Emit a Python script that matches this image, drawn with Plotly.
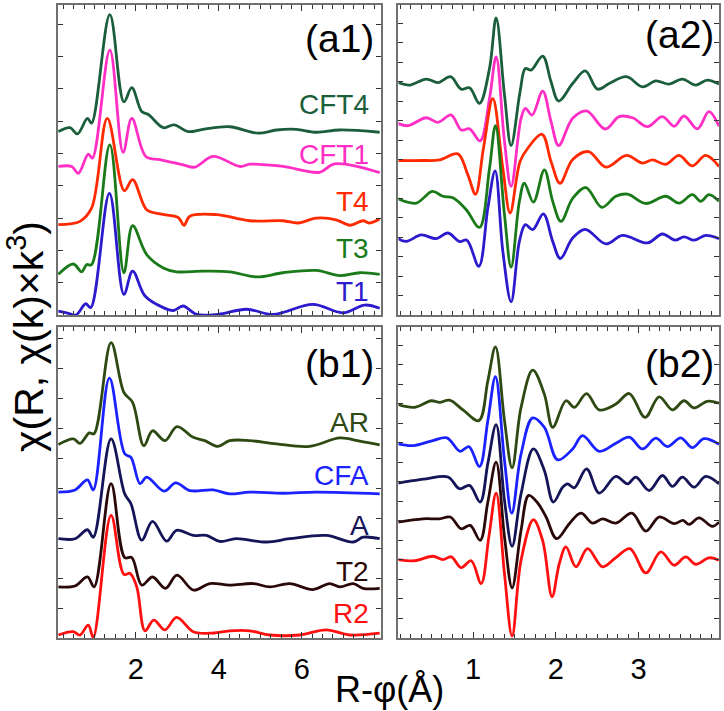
import plotly.graph_objects as go

# ---------------- data (a1) ----------------
a1_r_cft4 = [0.13,0.41,0.59,0.83,0.93,1.37,1.71,1.90,2.14,2.30,2.66,2.92,3.26,3.62,4.26,4.95,5.39,5.87,6.35,6.92,7.88]
a1_y_cft4 = [5.68,5.80,5.61,6.09,5.94,9.30,6.60,7.04,6.30,6.21,5.80,5.89,5.68,5.75,5.83,5.63,5.73,5.75,5.66,5.73,5.66]
a1_r_cft1 = [0.13,0.45,0.61,0.85,0.95,1.37,1.69,1.90,2.24,2.58,3.14,3.42,3.86,4.51,4.75,5.55,6.43,6.79,7.88]
a1_y_cft1 = [4.60,4.60,4.39,4.98,4.86,8.20,5.04,6.09,4.91,4.81,4.65,4.58,4.91,4.60,4.67,4.60,4.42,4.68,4.41]
a1_r_t4 = [0.13,0.41,0.65,0.93,1.31,1.72,1.92,2.26,2.58,3.02,3.16,3.30,3.94,4.75,5.55,5.91,6.35,6.83,7.16,7.48,7.64,7.88]
a1_y_t4 = [2.80,2.82,2.90,3.31,6.09,3.85,4.19,3.26,3.13,3.02,2.78,3.06,3.11,2.92,2.92,2.85,3.00,2.95,2.78,2.92,2.85,2.98]
a1_r_t3 = [0.13,0.49,0.69,0.81,0.93,1.37,1.71,1.92,2.26,2.66,2.98,3.62,4.26,4.91,5.55,6.35,6.92,7.40,7.88]
a1_y_t3 = [1.26,1.58,1.34,1.56,1.56,5.27,1.31,2.77,1.87,1.46,1.34,1.36,1.34,1.18,1.31,1.38,1.22,1.31,1.26]
a1_r_t1 = [0.13,0.33,0.55,0.79,0.91,1.36,1.71,1.92,2.22,2.66,2.90,3.14,3.46,3.98,4.67,5.31,6.27,6.99,7.52,7.88]
a1_y_t1 = [0.12,0.07,0.00,0.35,0.23,3.77,0.64,1.36,0.59,0.23,0.14,0.28,0.02,0.02,0.18,0.02,0.33,0.07,0.31,0.21]

# ---------------- data (a2) ----------------
a2_r_cft4 = [0.094,0.235,0.436,0.576,0.729,0.857,0.958,1.078,1.199,1.279,1.380,1.460,1.568,1.632,1.701,1.841,1.942,2.034,2.203,2.355,2.504,2.645,2.853,3.046,3.207,3.367,3.528,3.689,3.829,3.970]
a2_y_cft4 = [11.96,11.83,12.14,11.96,12.26,11.62,11.69,10.89,12.68,15.28,11.32,8.72,11.49,12.68,12.60,13.32,12.00,11.01,11.91,12.56,11.62,11.91,12.26,11.74,12.05,11.88,12.14,11.83,12.09,11.88]
a2_r_cft1 = [0.094,0.215,0.436,0.576,0.737,0.857,0.958,1.086,1.199,1.279,1.380,1.460,1.580,1.632,1.713,1.841,1.942,2.034,2.203,2.371,2.596,2.765,2.926,3.106,3.287,3.428,3.548,3.709,3.849,3.970]
a2_y_cft1 = [9.86,9.74,10.15,9.91,10.29,9.52,9.58,8.96,11.14,13.28,8.92,6.62,10.12,10.63,10.29,11.52,9.95,8.72,10.12,10.50,9.57,10.21,10.15,9.69,10.21,9.71,10.24,9.58,10.46,9.71]
a2_r_t4 = [0.094,0.396,0.596,0.817,0.938,1.030,1.126,1.239,1.360,1.448,1.568,1.661,1.833,1.942,2.050,2.203,2.395,2.604,2.853,3.046,3.167,3.327,3.488,3.648,3.809,3.970]
a2_y_t4 = [7.95,7.95,7.98,8.29,7.21,6.22,8.58,11.14,7.55,5.25,7.90,8.58,9.30,7.90,6.78,8.00,8.41,7.61,8.21,7.82,7.98,7.75,8.21,7.67,8.21,7.64]
a2_r_t3 = [0.094,0.315,0.508,0.636,0.757,0.918,1.078,1.199,1.271,1.380,1.460,1.560,1.620,1.729,1.861,1.962,2.062,2.203,2.363,2.556,2.725,2.866,3.086,3.327,3.488,3.648,3.749,3.849,3.970]
a2_y_t3 = [5.98,5.76,6.36,6.11,6.03,5.42,4.51,7.55,9.74,5.16,2.46,5.85,6.78,5.81,7.47,5.85,4.82,6.00,6.56,5.54,6.11,6.22,5.74,6.11,5.76,6.19,5.85,6.19,5.85]
a2_r_t1 = [0.094,0.195,0.376,0.556,0.697,0.837,0.926,1.070,1.179,1.267,1.360,1.460,1.560,1.632,1.721,1.849,1.962,2.054,2.203,2.355,2.604,2.805,3.106,3.287,3.440,3.548,3.669,3.809,3.970]
a2_y_t1 = [3.93,3.79,4.12,3.93,4.22,3.78,3.85,2.51,5.50,7.42,3.28,0.68,3.79,4.65,4.39,5.20,3.79,2.91,3.96,4.41,3.66,4.10,3.71,4.17,3.85,4.02,3.85,4.10,3.93]

# ---------------- data (b1) ----------------
b1_r_ar = [0.13,0.49,0.65,0.875,0.99,1.40,1.71,1.92,2.19,2.40,2.70,2.99,3.38,3.66,3.98,4.26,4.75,5.39,6.19,6.92,7.40,7.88]
b1_y_ar = [6.47,6.66,6.51,6.86,6.83,9.88,8.21,7.88,6.43,6.93,6.60,7.07,6.71,6.60,6.41,6.60,6.60,6.49,6.41,6.69,6.58,6.46]
b1_r_cfa = [0.13,0.53,0.83,0.97,1.36,1.73,1.88,2.10,2.26,2.68,2.96,3.30,3.86,4.26,4.75,5.55,6.35,7.88]
b1_y_cfa = [4.88,4.95,5.29,4.95,8.69,6.16,6.04,5.16,5.38,4.91,5.19,4.93,4.95,4.82,4.88,4.84,4.88,4.82]
b1_r_a = [0.13,0.53,0.83,0.97,1.40,1.73,1.88,2.14,2.40,2.74,2.98,3.38,3.70,4.02,4.42,5.15,5.71,6.59,7.24,7.48,7.88]
b1_y_a = [3.32,3.32,3.62,3.37,6.66,4.82,4.49,3.27,3.90,3.24,3.60,3.43,3.43,3.23,3.32,3.21,3.32,3.43,3.21,3.37,3.32]
b1_r_t2 = [0.13,0.53,0.83,0.99,1.40,1.73,1.90,2.14,2.40,2.71,2.99,3.39,3.78,4.26,4.83,5.23,5.71,6.27,6.67,6.92,7.24,7.48,7.88]
b1_y_t2 = [1.71,1.74,2.04,1.71,5.16,2.69,2.69,1.77,2.04,1.66,2.10,1.60,1.82,1.77,1.82,1.71,1.82,1.62,1.82,1.71,1.82,1.66,1.66]
b1_r_r2 = [0.13,0.49,0.65,0.85,0.97,1.40,1.71,1.86,2.02,2.22,2.43,2.70,2.98,3.38,3.78,4.26,4.75,5.23,5.95,6.59,7.16,7.88]
b1_y_r2 = [0.10,0.21,0.10,0.43,0.02,4.10,2.13,2.16,1.71,0.24,0.60,0.27,0.69,0.21,0.16,0.24,0.24,0.10,0.10,0.27,0.10,0.16]

# ---------------- data (b2) ----------------
b2_r_ar = [0.094,0.295,0.496,0.596,0.717,0.878,1.070,1.179,1.271,1.380,1.472,1.580,1.721,1.861,1.962,2.122,2.223,2.371,2.524,2.725,2.886,3.078,3.247,3.408,3.548,3.669,3.829,3.970]
b2_y_ar = [11.96,11.82,12.16,12.08,12.19,11.69,11.14,13.18,14.92,11.14,8.72,11.82,13.73,12.50,10.80,12.16,11.82,12.53,11.69,11.99,12.53,11.31,12.36,11.69,12.16,11.79,12.13,12.03]
b2_r_cfa = [0.094,0.275,0.516,0.685,0.845,0.950,1.078,1.179,1.271,1.380,1.468,1.580,1.721,1.861,2.022,2.203,2.323,2.524,2.725,2.886,3.046,3.207,3.347,3.508,3.649,3.789,3.970]
b2_y_cfa = [9.95,9.86,10.12,10.26,9.57,9.81,8.79,11.14,13.39,9.10,6.40,9.43,11.28,10.80,9.13,9.69,10.37,9.57,9.98,10.29,9.69,10.24,9.81,10.26,9.76,10.22,9.93]
b2_r_a = [0.094,0.235,0.436,0.697,0.837,0.958,1.086,1.179,1.279,1.380,1.472,1.580,1.729,1.861,1.970,2.082,2.142,2.223,2.371,2.524,2.725,2.866,2.966,3.127,3.287,3.408,3.528,3.669,3.809,3.970]
b2_y_a = [7.94,8.04,8.16,8.25,7.65,7.82,6.97,8.95,10.94,7.05,4.70,7.39,9.69,8.59,6.97,7.73,7.90,7.70,8.67,7.43,8.28,7.90,8.25,7.56,8.33,7.77,8.25,7.73,8.28,7.90]
b2_r_t2 = [0.094,0.396,0.596,0.725,0.857,0.966,1.086,1.179,1.279,1.380,1.472,1.580,1.673,1.781,1.882,2.010,2.163,2.303,2.443,2.564,2.725,2.918,3.086,3.247,3.428,3.536,3.608,3.729,3.889,3.970]
b2_y_t2 = [5.94,6.11,6.11,6.20,5.60,5.77,5.01,6.97,9.01,5.18,2.57,5.52,7.31,6.92,6.20,5.09,5.86,6.40,5.89,6.11,5.89,6.40,5.48,6.20,5.86,6.03,5.82,6.16,5.72,5.94]
b2_r_r2 = [0.094,0.295,0.516,0.636,0.737,0.857,0.978,1.098,1.191,1.279,1.380,1.472,1.580,1.729,1.841,1.954,2.042,2.122,2.243,2.383,2.564,2.725,2.894,3.086,3.267,3.428,3.568,3.689,3.849,3.970]
b2_y_r2 = [4.02,3.96,4.19,4.02,4.16,3.61,3.96,2.79,5.18,7.43,3.29,0.10,3.99,6.06,4.99,2.11,3.82,4.67,3.65,4.58,3.65,4.12,4.58,3.34,4.41,3.73,4.16,3.78,4.11,3.99]

names_a = ["CFT4", "CFT1", "T4", "T3", "T1"]
colors_a = ["#1b5e3b", "#ff2ec4", "#ff2a00", "#1a7a1a", "#2b1bcc"]
names_b = ["AR", "CFA", "A", "T2", "R2"]
colors_b = ["#2e4a12", "#1a22ff", "#141458", "#2b0808", "#ff1010"]

a1_label_y = [6.51, 4.97, 3.52, 2.07, 0.74]
b1_label_y = [7.21, 5.43, 3.77, 2.24, 0.83]

FONT = "Liberation Sans, Arial, sans-serif"
NARROW = "Liberation Sans Narrow, Arial Narrow, Liberation Sans, sans-serif"

fig = go.Figure()

def add(xs, ys, color, xa, ya):
    fig.add_trace(go.Scatter(x=xs, y=ys, mode="lines",
                             line=dict(color=color, width=2.8, shape="spline", smoothing=1.0),
                             xaxis=xa, yaxis=ya, showlegend=False, hoverinfo="skip"))

a1 = [(a1_r_cft4, a1_y_cft4), (a1_r_cft1, a1_y_cft1), (a1_r_t4, a1_y_t4), (a1_r_t3, a1_y_t3), (a1_r_t1, a1_y_t1)]
a2 = [(a2_r_cft4, a2_y_cft4), (a2_r_cft1, a2_y_cft1), (a2_r_t4, a2_y_t4), (a2_r_t3, a2_y_t3), (a2_r_t1, a2_y_t1)]
b1 = [(b1_r_ar, b1_y_ar), (b1_r_cfa, b1_y_cfa), (b1_r_a, b1_y_a), (b1_r_t2, b1_y_t2), (b1_r_r2, b1_y_r2)]
b2 = [(b2_r_ar, b2_y_ar), (b2_r_cfa, b2_y_cfa), (b2_r_a, b2_y_a), (b2_r_t2, b2_y_t2), (b2_r_r2, b2_y_r2)]

for (xs, ys), c in zip(a1, colors_a):
    add(xs, ys, c, "x", "y")
for (xs, ys), c in zip(a2, colors_a):
    add(xs, ys, c, "x2", "y2")
for (xs, ys), c in zip(b1, colors_b):
    add(xs, ys, c, "x3", "y3")
for (xs, ys), c in zip(b2, colors_b):
    add(xs, ys, c, "x4", "y4")

LINE = "#707070"
TICK = "#333333"

def xax(domain, rng, dtick, minor, anchor, labels):
    return dict(domain=domain, range=rng, anchor=anchor, dtick=dtick, tick0=0,
                ticks="inside", ticklen=6, tickwidth=1.2, tickcolor=TICK,
                minor=dict(dtick=minor, ticks="inside", ticklen=4, tickwidth=1.2, tickcolor=TICK),
                showline=True, linecolor=LINE, linewidth=1.5, mirror="allticks",
                showgrid=False, zeroline=False, showticklabels=labels,
                tickfont=dict(family=NARROW, size=29, color="black"), ticklabelstandoff=4)

def yax(domain, rng, anchor):
    return dict(domain=domain, range=rng, anchor=anchor, dtick=1, tick0=0,
                ticks="inside", ticklen=5, tickwidth=1.2, tickcolor=TICK,
                showline=True, linecolor=LINE, linewidth=1.5, mirror="allticks",
                showgrid=False, zeroline=False, showticklabels=False)

xl = [0.0, 0.4879]
xr = [0.5151, 1.0]
yt = [0.5102, 1.0]
yb = [0.0, 0.4913]

fig.update_layout(
    width=724, height=711,
    margin=dict(l=58, r=4, t=3, b=73),
    paper_bgcolor="white", plot_bgcolor="white",
    xaxis=xax(xl, [0.12, 7.9], 2, 0.25, "y", False),
    xaxis2=xax(xr, [0.1, 3.97], 1, 0.125, "y2", False),
    xaxis3=xax(xl, [0.12, 7.9], 2, 0.25, "y3", True),
    xaxis4=xax(xr, [0.1, 3.97], 1, 0.125, "y4", True),
    yaxis=yax(yt, [0, 9.6], "x"),
    yaxis2=yax(yt, [0, 15.95], "x2"),
    yaxis3=yax(yb, [0, 10.4], "x3"),
    yaxis4=yax(yb, [0, 15.94], "x4"),
)

ann = []
for n, c, yv in zip(names_a, colors_a, a1_label_y):
    ann.append(dict(x=7.68, y=yv, xref="x", yref="y", text=n, showarrow=False,
                    xanchor="right", yanchor="middle", font=dict(family=FONT, size=28, color=c)))
for n, c, yv in zip(names_b, colors_b, b1_label_y):
    ann.append(dict(x=7.68, y=yv, xref="x3", yref="y3", text=n, showarrow=False,
                    xanchor="right", yanchor="middle", font=dict(family=FONT, size=28, color=c)))

panel_font = dict(family=FONT, size=39, color="black")
ann.append(dict(x=7.8, y=8.55, xref="x", yref="y", text="(a1)", showarrow=False,
                xanchor="right", yanchor="middle", font=panel_font))
ann.append(dict(x=3.93, y=14.41, xref="x2", yref="y2", text="(a2)", showarrow=False,
                xanchor="right", yanchor="middle", font=panel_font))
ann.append(dict(x=7.8, y=9.17, xref="x3", yref="y3", text="(b1)", showarrow=False,
                xanchor="right", yanchor="middle", font=panel_font))
ann.append(dict(x=3.93, y=14.05, xref="x4", yref="y4", text="(b2)", showarrow=False,
                xanchor="right", yanchor="middle", font=panel_font))

# axis titles
ann.append(dict(x=(390 - 58) / 662, y=(638 - 690) / 635, xref="paper", yref="paper",
                text="R-φ(Å)", showarrow=False, xanchor="center", yanchor="middle",
                font=dict(family=FONT, size=36, color="black")))
ann.append(dict(x=(26 - 58) / 662, y=(638 - 336) / 635, xref="paper", yref="paper",
                text="χ(R, χ(k)×k<sup>3</sup>)", showarrow=False, xanchor="center", yanchor="middle",
                textangle=-90, font=dict(family=FONT, size=41, color="black")))

fig.update_layout(annotations=ann)
fig.write_html("out.html", config={"displayModeBar": False},
               post_script="document.body.style.margin='0';")
